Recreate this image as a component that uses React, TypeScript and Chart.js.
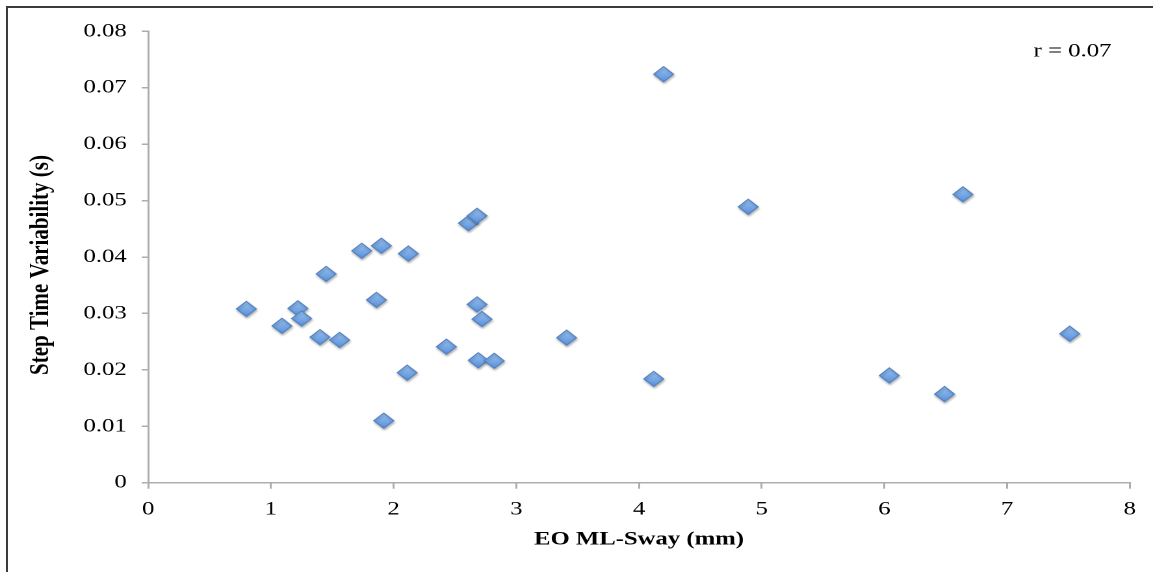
import React, { useEffect, useRef } from 'react';
import { Chart, registerables } from 'chart.js';

Chart.register(...registerables);

// ---- data ----
const swayMM = [
  0.8, 1.09, 1.22, 1.25, 1.4, 1.45, 1.56, 1.74, 1.86, 1.9, 1.92, 2.11, 2.12, 2.43,
  2.61, 2.68, 2.68, 2.69, 2.72, 2.82, 3.41, 4.12, 4.2, 4.89, 6.04, 6.49, 6.64, 7.51,
];
const stepTimeVar = [
  0.0308, 0.0278, 0.0309, 0.0291, 0.0258, 0.037, 0.0253, 0.0411, 0.0324, 0.042, 0.011,
  0.0195, 0.0406, 0.0241, 0.046, 0.0473, 0.0316, 0.0217, 0.029, 0.0216, 0.0257, 0.0184,
  0.0724, 0.0489, 0.019, 0.0157, 0.0511, 0.0264,
];
const xTickLabels = ['0', '1', '2', '3', '4', '5', '6', '7', '8'];
const yTickLabels = ['0', '0.01', '0.02', '0.03', '0.04', '0.05', '0.06', '0.07', '0.08'];
const xTitle = 'EO ML-Sway (mm)';
const yTitle = 'Step Time Variability (s)';
const annotationText = 'r = 0.07';

// ---- layout ----
const PHYS_W = 1153;
const PHYS_H = 572;
const W = 887; // internal width; stretched horizontally to PHYS_W
const k = W / PHYS_W;
const serif = '"Liberation Serif", "Times New Roman", Times, serif';

export default function App() {
  const ref = useRef<HTMLCanvasElement>(null);

  useEffect(() => {
    const canvas = ref.current;
    if (!canvas) return;
    Chart.defaults.font.family = serif;

    const shadowPlugin = {
      id: 'markerShadow',
      beforeDatasetsDraw(chart: any) {
        const c = chart.ctx;
        c.save();
        c.shadowColor = 'rgba(0,0,0,0.3)';
        c.shadowBlur = 4;
        c.shadowOffsetX = 1;
        c.shadowOffsetY = 3;
      },
      afterDatasetsDraw(chart: any) {
        chart.ctx.restore();
      },
    };

    const textPlugin = {
      id: 'extraText',
      afterDraw(chart: any) {
        const c = chart.ctx;
        c.save();
        c.font = `19px ${serif}`;
        c.fillStyle = '#000';
        c.textAlign = 'center';
        c.textBaseline = 'middle';
        c.fillText(annotationText, 1072.5 * k, 51.5);
        c.restore();

        c.save();
        c.translate(41 * k, 265);
        c.rotate(-Math.PI / 2);
        c.font = `bold 21px ${serif}`;
        c.fillStyle = '#000';
        c.textAlign = 'center';
        c.textBaseline = 'middle';
        c.fillText(yTitle, 0, 0);
        c.restore();
      },
    };

    const fill = (ctx: any) => {
      const chart = ctx.chart;
      const raw = ctx.raw;
      const fallback = '#74a6e6';
      try {
        if (!raw || !chart.scales || !chart.scales.y) return fallback;
        const py = chart.scales.y.getPixelForValue(raw.y);
        if (!Number.isFinite(py)) return fallback;
        const g = chart.ctx.createLinearGradient(0, py - 7.6, 0, py + 7.6);
        g.addColorStop(0, '#a0c6f3');
        g.addColorStop(0.5, '#78aae7');
        g.addColorStop(1, '#5b90d9');
        return g;
      } catch (e) {
        return fallback;
      }
    };

    const chart = new Chart(canvas, {
      type: 'scatter',
      data: {
        datasets: [
          {
            data: swayMM.map((x, i) => ({ x, y: stepTimeVar[i] })),
            pointStyle: 'rectRot',
            pointRadius: 7.6,
            pointHoverRadius: 7.6,
            pointBorderWidth: 1,
            pointBorderColor: '#5283c4',
            pointBackgroundColor: fill,
          } as any,
        ],
      },
      options: {
        responsive: false,
        animation: false,
        devicePixelRatio: 2,
        layout: { padding: { top: 31.3, right: W - 1129.8 * k, bottom: 0, left: 0 } },
        plugins: {
          legend: { display: false },
          tooltip: { enabled: false },
          title: { display: false },
        },
        scales: {
          x: {
            type: 'linear',
            position: 'bottom',
            min: 0,
            max: 8,
            ticks: {
              stepSize: 1,
              color: '#000',
              font: { family: serif, size: 19 },
              padding: 9.4,
              maxRotation: 0,
              autoSkip: false,
              callback: (v: any) => xTickLabels[Math.round(Number(v))],
            },
            grid: { drawOnChartArea: false, drawTicks: true, tickLength: 6, color: '#adadad', lineWidth: 1.5 },
            border: { display: true, color: '#adadad', width: 1.5 },
            title: {
              display: true,
              text: xTitle,
              color: '#000',
              font: { family: serif, size: 19, weight: 'bold' },
              padding: { top: 0, bottom: 21 },
            },
            afterFit: (s: any) => {
              s.height = PHYS_H - 482.7;
            },
          },
          y: {
            type: 'linear',
            position: 'left',
            min: 0,
            max: 0.08,
            ticks: {
              stepSize: 0.01,
              color: '#000',
              font: { family: serif, size: 19 },
              padding: 11.5,
              autoSkip: false,
              callback: (v: any) => yTickLabels[Math.round(Number(v) * 100)],
            },
            grid: { drawOnChartArea: false, drawTicks: true, tickLength: 5, color: '#adadad', lineWidth: 1.5 },
            border: { display: true, color: '#adadad', width: 1.5 },
            title: { display: false },
            afterFit: (s: any) => {
              s.width = 148.2 * k;
            },
          },
        },
      } as any,
      plugins: [shadowPlugin, textPlugin],
    });
    return () => chart.destroy();
  }, []);

  return (
    <div
      style={{
        position: 'absolute',
        left: 0,
        top: 0,
        width: PHYS_W,
        height: PHYS_H,
        overflow: 'hidden',
        background: '#fff',
      }}
    >
      <canvas
        ref={ref}
        width={W}
        height={PHYS_H}
        style={{ width: `${PHYS_W}px`, height: `${PHYS_H}px`, display: 'block' }}
      />
      <div
        style={{
          position: 'absolute',
          left: 6,
          top: 6,
          width: PHYS_W + 20,
          height: PHYS_H + 40,
          border: '2px solid #3c3c3c',
          boxSizing: 'border-box',
          pointerEvents: 'none',
        }}
      />
    </div>
  );
}
